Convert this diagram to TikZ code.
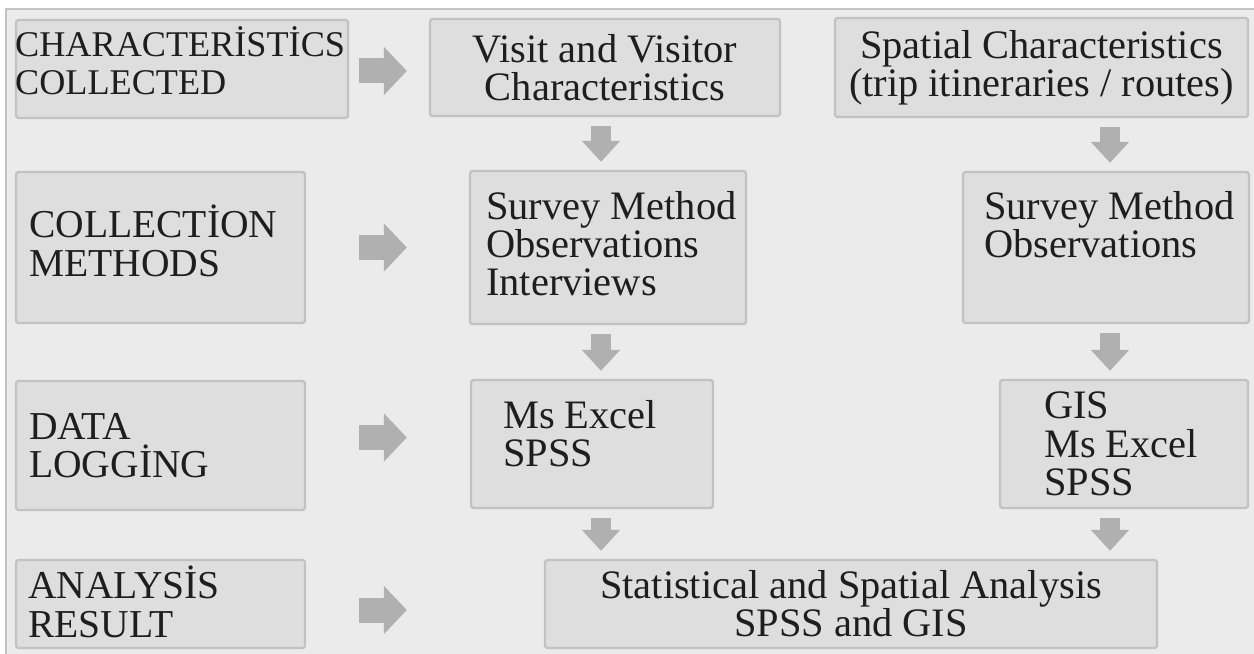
\documentclass[tikz,border=0pt]{standalone}
\usepackage{fontspec}
\setmainfont{Liberation Serif}
\usepackage{xcolor}
\usetikzlibrary{arrows.meta,positioning}

\definecolor{panel}{HTML}{EBEBEB}
\definecolor{boxfill}{HTML}{DEDEDE}
\definecolor{boxline}{HTML}{C2C2C2}
\definecolor{arrowgray}{HTML}{B0B0B0}
\definecolor{ink}{HTML}{1E1E1E}

\begin{document}
\begin{tikzpicture}[
  box/.style={draw=boxline,line width=1.3pt,fill=boxfill,rounded corners=1.5pt,inner sep=0pt,
    align=center,text=ink,font=\fontsize{23}{21.8}\selectfont},
  rowtext/.style={inner sep=0pt,align=left,text=ink,font=\fontsize{22.5}{21.8}\selectfont},
  celltext/.style={inner sep=0pt,align=left,text=ink,font=\fontsize{23}{21.8}\selectfont},
  rightarrow/.style={draw=arrowgray,line width=0.5cm,-{Triangle[length=0.46cm,width=0.94cm]}},
  downarrow/.style={draw=arrowgray,line width=0.4cm,-{Triangle[length=0.42cm,width=0.74cm]},
    shorten <=0.18cm,shorten >=0.16cm}
]
  \useasboundingbox (0,0) rectangle (25.08,-13.08);
  \fill[white] (0,0) rectangle (25.08,-13.08);
  \fill[panel] (0.12,-0.18) rectangle (25.08,-13.08);
  \draw[boxline,line width=0.8pt] (0.12,-13.08) |- (25.08,-0.18);

  % Row labels
  \node[box,minimum width=6.64cm,minimum height=1.96cm] (cc) at (3.64,-1.38) {};
  \node[box,minimum width=5.78cm,minimum height=3.02cm] (cm) at (3.21,-4.95) {};
  \node[box,minimum width=5.78cm,minimum height=2.58cm] (dl) at (3.21,-8.91) {};
  \node[box,minimum width=5.78cm,minimum height=1.76cm] (ar) at (3.21,-12.08) {};
  \node[rowtext,font=\fontsize{20.6}{21.8}\selectfont,right=0pt of cc.west,yshift=0.16cm] (ccT)
    {CHARACTERİSTİCS\\COLLECTED};
  \node[rowtext,right=0.28cm of cm.west,yshift=0.13cm] (cmT) {COLLECTİON\\METHODS};
  \node[rowtext,right=0.28cm of dl.west] (dlT) {DATA\\LOGGİNG};
  \node[rowtext,right=0.26cm of ar.west,yshift=0.04cm] (arT) {ANALYSİS\\RESULT};

  % Visit column
  \node[box,minimum width=7.00cm,minimum height=1.94cm] (visit) at (12.10,-1.35)
    {Visit and Visitor\\Characteristics};
  \node[box,minimum width=5.52cm,minimum height=3.06cm] (surveyL) at (12.16,-4.95) {};
  \node[box,minimum width=4.84cm,minimum height=2.56cm] (excelL) at (11.84,-8.88) {};
  \node[celltext,below right=0.42cm and 0.34cm of surveyL.north west] (surveyLT)
    {Survey Method\\Observations\\Interviews};
  \node[celltext,below right=0.42cm and 0.66cm of excelL.north west] (excelLT)
    {Ms Excel\\SPSS};

  % Spatial column
  \node[box,minimum width=8.26cm,minimum height=1.98cm] (spatial) at (20.83,-1.35)
    {Spatial Characteristics\\(trip itineraries / routes)};
  \node[box,minimum width=5.72cm,minimum height=3.02cm] (surveyR) at (22.12,-4.95) {};
  \node[box,minimum width=4.96cm,minimum height=2.56cm] (excelR) at (22.48,-8.88) {};
  \node[celltext,below right=0.40cm and 0.44cm of surveyR.north west] (surveyRT)
    {Survey Method\\Observations};
  \node[celltext,below right=0.26cm and 0.90cm of excelR.north west] (excelRT)
    {GIS\\Ms Excel\\SPSS};

  % Result
  \node[box,minimum width=12.24cm,minimum height=1.76cm] (stat) at (17.02,-12.08)
    {Statistical and Spatial Analysis\\SPSS and GIS};

  % Arrows to the right
  \draw[rightarrow,shorten <=0.2cm,shorten >=0.44cm] ([yshift=-0.04cm]cc.east) -- ([yshift=-0.04cm]cc.east -| visit.west);
  \draw[rightarrow,shorten <=1.06cm,shorten >=1.24cm] (cm.east) -- (cm.east -| surveyL.west);
  \draw[rightarrow,shorten <=1.06cm,shorten >=1.26cm] ([yshift=0.16cm]dl.east) -- ([yshift=0.16cm]dl.east -| excelL.west);
  \draw[rightarrow,shorten <=1.06cm,shorten >=2.74cm] ([yshift=-0.12cm]ar.east) -- ([yshift=-0.12cm]ar.east -| stat.west);

  % Arrows down
  \coordinate (colA) at (12.02,0);
  \coordinate (colB) at (22.20,0);
  \draw[downarrow] (visit.south -| colA) -- (surveyL.north -| colA);
  \draw[downarrow] (surveyL.south -| colA) -- (excelL.north -| colA);
  \draw[downarrow] (excelL.south -| colA) -- (stat.north -| colA);
  \draw[downarrow] (spatial.south -| colB) -- (surveyR.north -| colB);
  \draw[downarrow] (surveyR.south -| colB) -- (excelR.north -| colB);
  \draw[downarrow] (excelR.south -| colB) -- (stat.north -| colB);
\end{tikzpicture}
\end{document}
